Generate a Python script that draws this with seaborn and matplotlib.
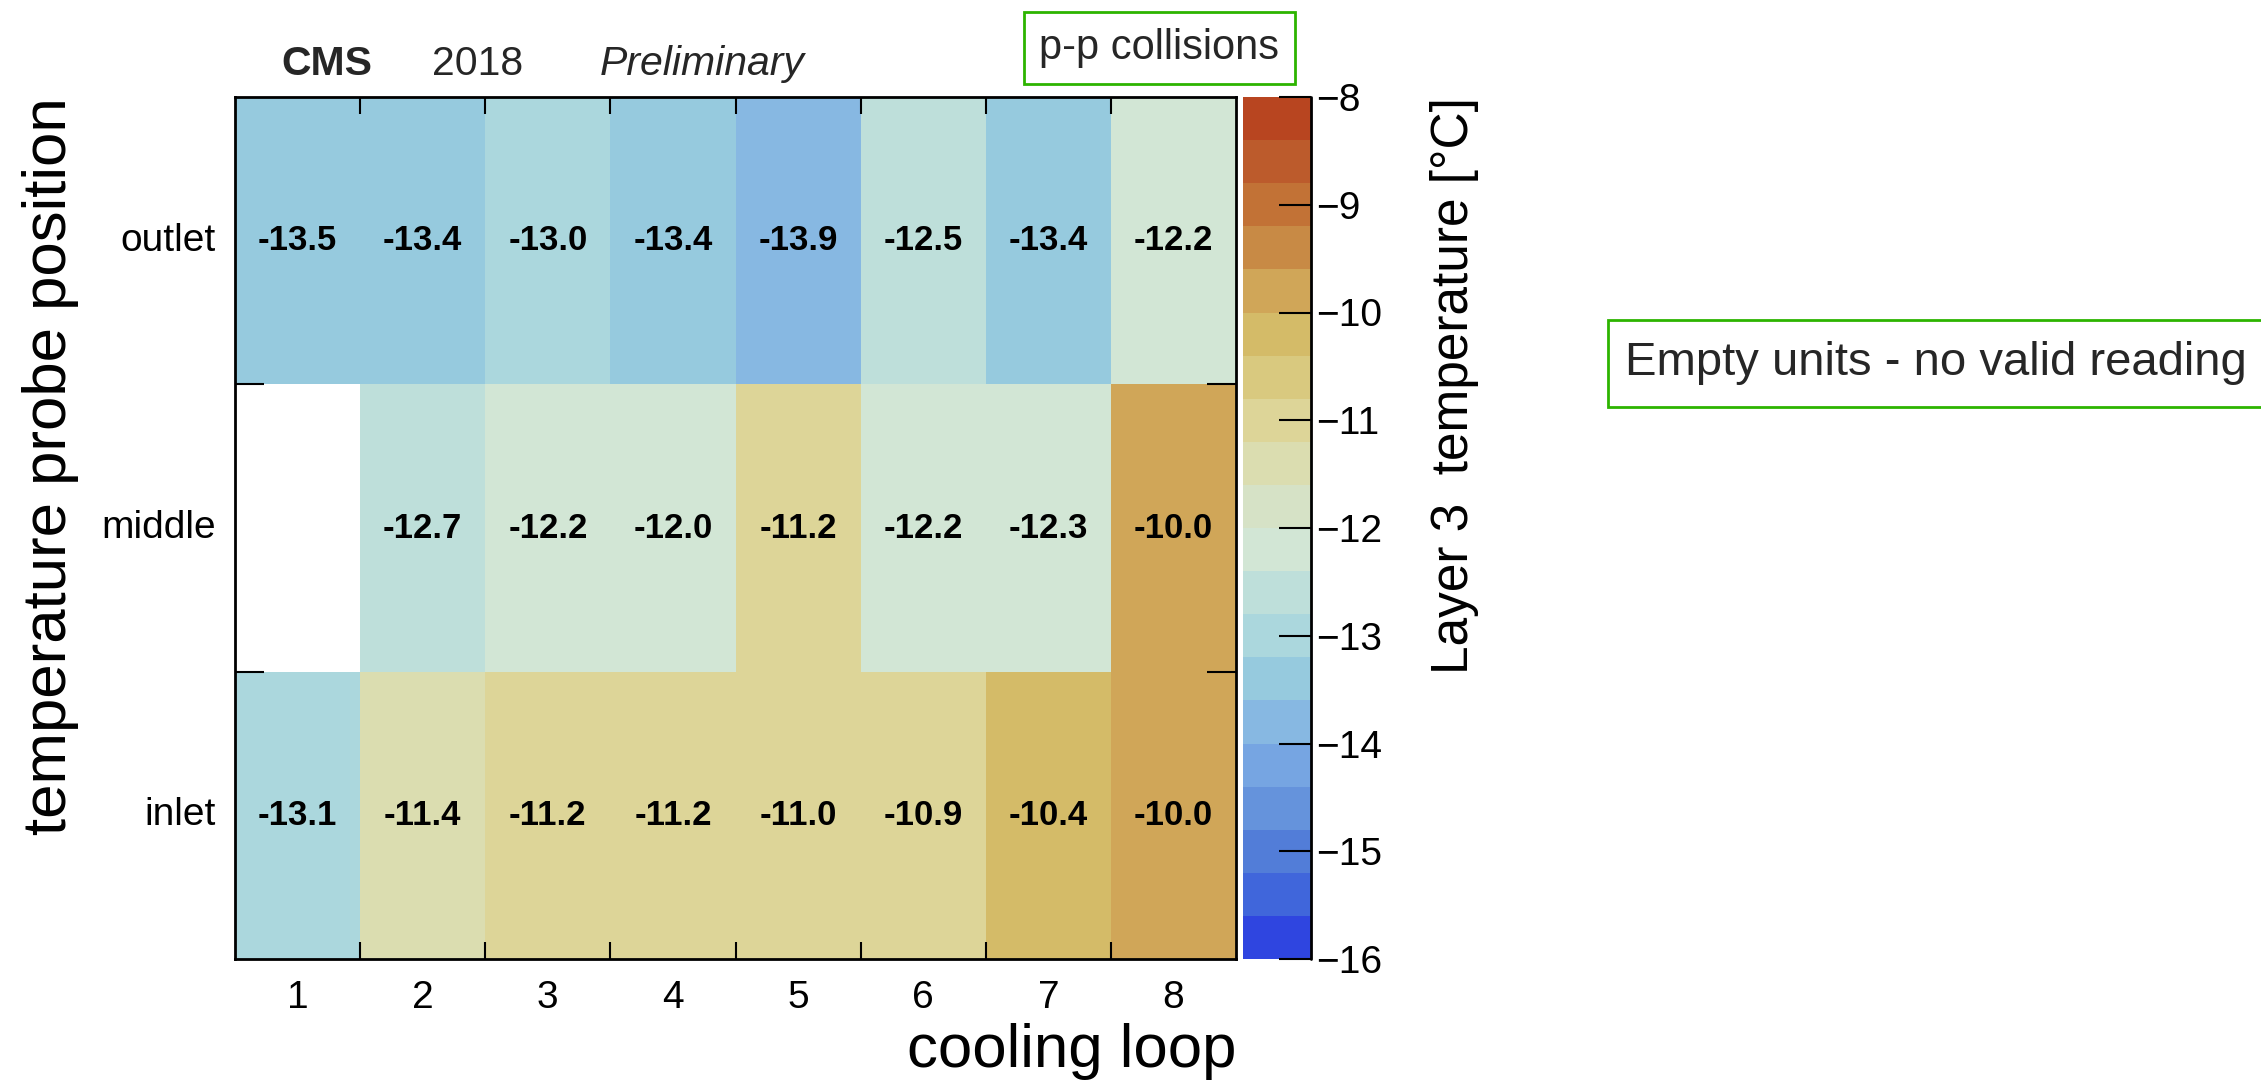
import numpy as np
import pandas as pd
import matplotlib
matplotlib.use("Agg")
import matplotlib.pyplot as plt
import seaborn as sns
from matplotlib.colors import ListedColormap, BoundaryNorm
from matplotlib.patches import Rectangle

# ---------------- data ----------------
loops = [1, 2, 3, 4, 5, 6, 7, 8]
positions = ["outlet", "middle", "inlet"]
outlet = [-13.5, -13.4, -13.0, -13.4, -13.9, -12.5, -13.4, -12.2]
middle = [np.nan, -12.7, -12.2, -12.04, -11.18, -12.2, -12.3, -9.98]
inlet = [-13.1, -11.4, -11.18, -11.18, -11.0, -10.9, -10.38, -9.98]
cbar_ticks = [-16, -15, -14, -13, -12, -11, -10, -9, -8]
palette = ["#2F45E0", "#4066DB", "#527DD8", "#6593DC", "#76A5E2",
           "#87B8E2", "#96CADE", "#ABD7DD", "#BEDFDA", "#D2E6D5",
           "#D6E2C6", "#DBDDB0", "#DDD598", "#D9C97F", "#D4BB68",
           "#D0A658", "#C88A45", "#C27236", "#BC5B2C", "#B84520"]

sns.set_theme(style="white")
plt.rcParams["font.family"] = ["Liberation Sans", "DejaVu Sans"]
plt.rcParams["axes.axisbelow"] = False

W, H = 2261, 1090
fig = plt.figure(figsize=(W / 100, H / 100), dpi=100)

def fx(px):
    return px / W

def fy(py):
    return 1 - py / H

ax = fig.add_axes([fx(235), fy(959), fx(1001), 862 / H])
cax = fig.add_axes([fx(1243), fy(959), fx(68), 862 / H])

levels = np.round(np.linspace(-16, -8, len(palette) + 1), 1)
cmap = ListedColormap(palette)
norm = BoundaryNorm(levels, cmap.N)

df = pd.DataFrame([outlet, middle, inlet], index=positions, columns=loops)
sns.heatmap(df, ax=ax, cbar_ax=cax, cmap=cmap, norm=norm, annot=True, fmt=".1f",
            annot_kws=dict(fontsize=25, fontweight="bold", color="black"),
            cbar_kws=dict(ticks=cbar_ticks))
ax.set_axisbelow(False)

# main axes styling
for s in ax.spines.values():
    s.set_visible(True)
    s.set_linewidth(2)
    s.set_color("black")
    s.set_zorder(5)

ax.set_xticks(np.arange(len(loops)) + 0.5, labels=[str(v) for v in loops])
ax.set_yticks(np.arange(len(positions)) + 0.5, labels=positions, rotation=0, va="center")
ax.set_xticks(np.arange(1, len(loops)), minor=True)
ax.set_yticks(np.arange(1, len(positions)), minor=True)
ax.tick_params(axis="x", which="major", length=0, labelsize=28, pad=15, colors="black")
ax.tick_params(axis="y", which="major", length=0, labelsize=28, pad=14, colors="black")
ax.tick_params(axis="x", which="minor", direction="in", length=12, width=1.5,
               top=True, bottom=True, color="black")
ax.tick_params(axis="y", which="minor", direction="in", length=21, width=1.5,
               left=True, right=True, color="black")

ax.set_xlabel("cooling loop", fontsize=44.5, loc="right", labelpad=5, color="black")
ax.set_ylabel("temperature probe position", fontsize=44.5, loc="top", labelpad=16, color="black")

# colorbar styling
cbar = ax.collections[0].colorbar
cbar.ax.set_axisbelow(False)
cbar.outline.set_visible(False)
cbar.set_ticks(cbar_ticks)
cbar.ax.minorticks_off()
cbar.ax.tick_params(axis="y", direction="in", length=23, width=1.5, labelsize=28,
                    pad=4, right=True, left=False, colors="black")
cbar.ax.plot([1, 1], [0, 1], transform=cbar.ax.transAxes, color="black", lw=2,
             clip_on=False, zorder=5)
cbar.set_label("Layer 3  temperature [°C]", fontsize=37, loc="top", labelpad=34, color="black")

# header texts
fig.text(fx(281), fy(75), "CMS", fontsize=29.5, fontweight="bold", va="baseline")
fig.text(fx(432), fy(75), "2018", fontsize=29.5, va="baseline")
fig.text(fx(600), fy(75), "Preliminary", fontsize=29.5, style="italic", va="baseline")

green = "#2DB400"
fig.add_artist(Rectangle((fx(1024), fy(84)), fx(271), 72 / H, transform=fig.transFigure,
                         facecolor="white", edgecolor=green, lw=2))
fig.text(fx(1159), fy(48), "p-p collisions", fontsize=30, ha="center", va="center")

fig.add_artist(Rectangle((fx(1608), fy(407)), fx(700), 87 / H, transform=fig.transFigure,
                         facecolor="white", edgecolor=green, lw=2))
fig.text(fx(1625), fy(363), "Empty units - no valid reading", fontsize=34, ha="left", va="center")

fig.savefig("out.png", dpi=100)
